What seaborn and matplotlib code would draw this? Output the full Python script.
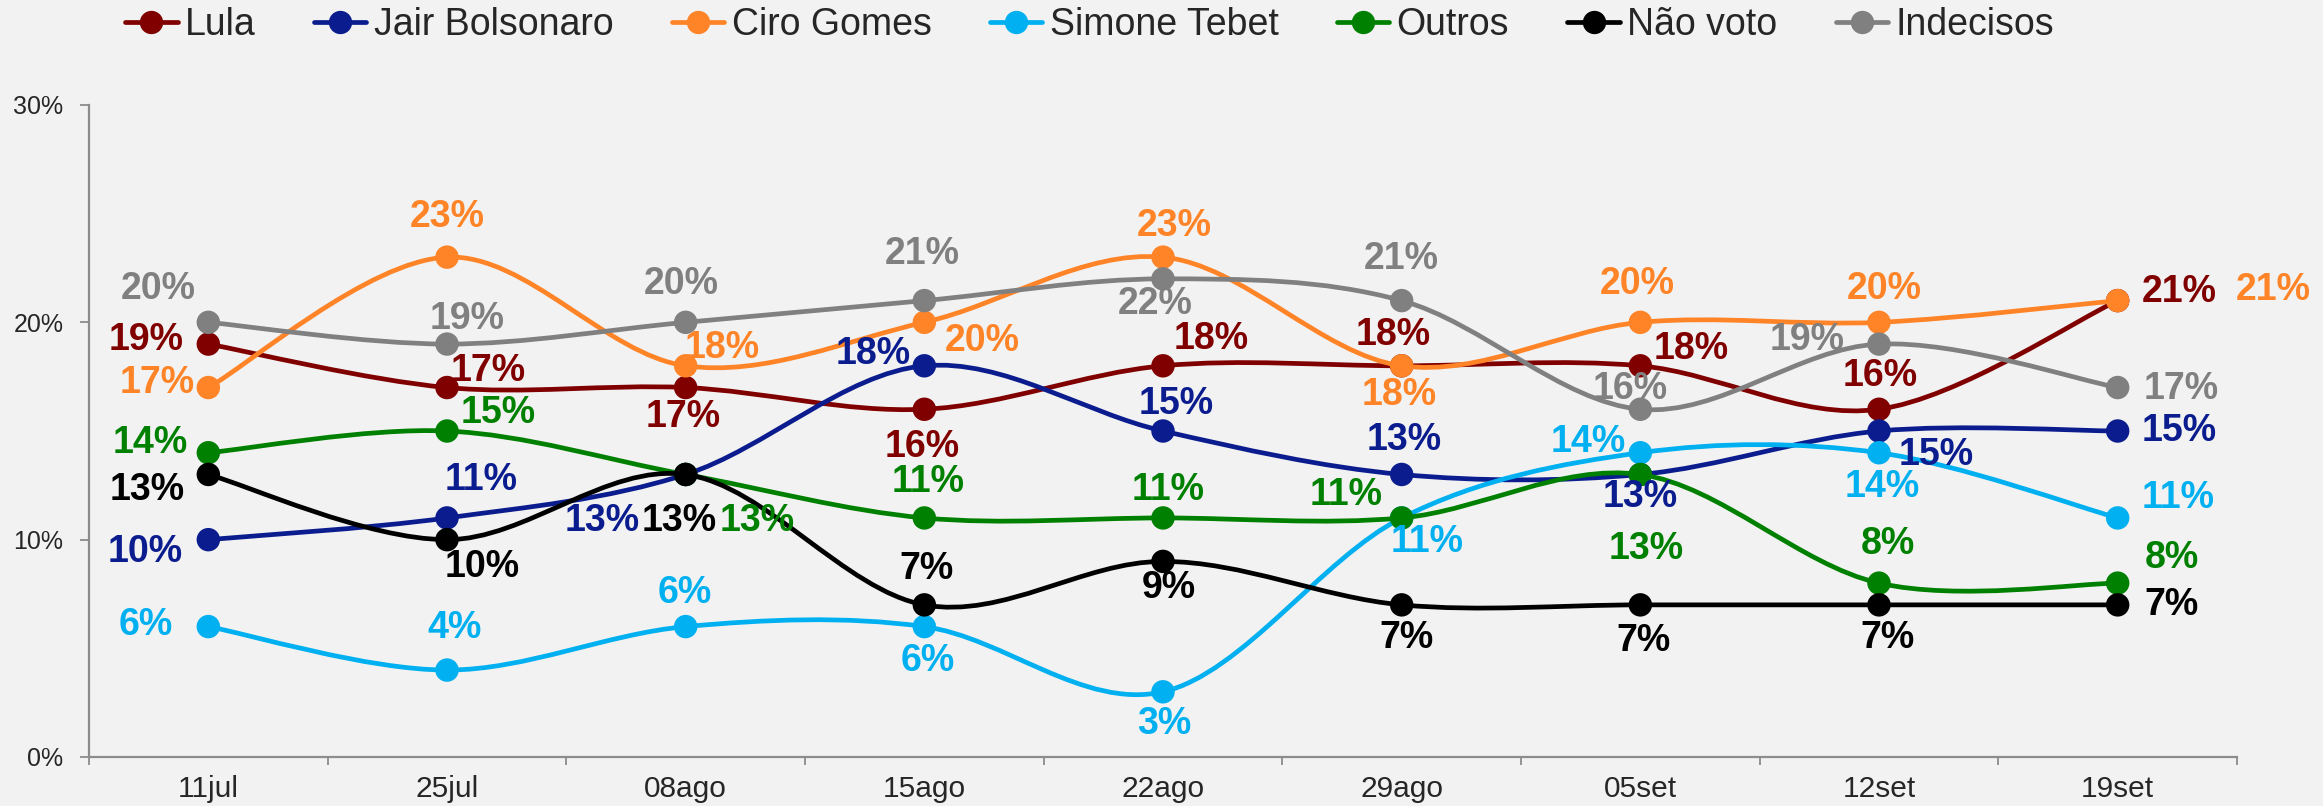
import numpy as np
import pandas as pd
import seaborn as sns
import matplotlib.pyplot as plt
from matplotlib.path import Path
from matplotlib.patches import PathPatch
from matplotlib.lines import Line2D

sns.set_theme(style="white", rc={"figure.facecolor": "#F2F2F2", "axes.facecolor": "#F2F2F2"})
plt.rcParams["font.family"] = ["Liberation Sans", "DejaVu Sans"]

dates = ["11jul", "25jul", "08ago", "15ago", "22ago", "29ago", "05set", "12set", "19set"]
lula = [19, 17, 17, 16, 18, 18, 18, 16, 21]
bolsonaro = [10, 11, 13, 18, 15, 13, 13, 15, 15]
ciro = [17, 23, 18, 20, 23, 18, 20, 20, 21]
tebet = [6, 4, 6, 6, 3, 11, 14, 14, 11]
outros = [14, 15, 13, 11, 11, 11, 13, 8, 8]
nao_voto = [13, 10, 13, 7, 9, 7, 7, 7, 7]
indecisos = [20, 19, 20, 21, 22, 21, 16, 19, 17]

names = ["Lula", "Jair Bolsonaro", "Ciro Gomes", "Simone Tebet", "Outros", "Não voto", "Indecisos"]
series = [lula, bolsonaro, ciro, tebet, outros, nao_voto, indecisos]
colors = ["#800000", "#0B1D8E", "#FF8427", "#00B0F0", "#008000", "#000000", "#808080"]

# data label offsets in pixels (dx right, dy down), one per point
label_offsets = [
    [(-62, -4), (41, -17), (-2, 29), (-2, 38), (48, -27), (-8, -31), (51, -17), (1, -33), (62, -9)],
    [(-63, 12), (34, -38), (-83, 47), (-51, -12), (13, -27), (3, -34), (0, 23), (57, 24), (62, 0)],
    [(-51, -5), (0, -40), (37, -18), (58, 19), (11, -31), (-2, 29), (-3, -38), (5, -33), (156, -11)],
    [(-63, -2), (8, -42), (-1, -34), (3, 34), (1, 32), (25, 24), (-52, -11), (3, 34), (60, -20)],
    [(-58, -10), (51, -18), (72, 47), (4, -36), (5, -28), (-56, -23), (6, 75), (9, -39), (54, -25)],
    [(-61, 16), (35, 27), (-6, 47), (2, -36), (6, 27), (5, 33), (3, 36), (9, 33), (54, 0)],
    [(-50, -33), (20, -25), (-4, -38), (-2, -47), (-8, 25), (0, -42), (-10, -20), (-72, -4), (64, 1)],
]


def smooth_path(xs, ys):
    pts = np.column_stack([xs, ys]).astype(float)
    n = len(pts)
    verts = [tuple(pts[0])]
    codes = [Path.MOVETO]
    for i in range(n - 1):
        p0 = pts[max(i - 1, 0)]
        p1 = pts[i]
        p2 = pts[i + 1]
        p3 = pts[min(i + 2, n - 1)]
        c1 = p1 + (p2 - p0) / 6
        c2 = p2 - (p3 - p1) / 6
        verts += [tuple(c1), tuple(c2), tuple(p2)]
        codes += [Path.CURVE4] * 3
    return Path(verts, codes)


fig = plt.figure(figsize=(23.23, 8.06), dpi=100)
ax = fig.add_axes([89 / 2323, 49 / 806, (2237 - 89) / 2323, (757 - 105) / 806])

x = np.arange(len(dates))
for k, (name, vals, col) in enumerate(zip(names, series, colors)):
    ax.add_patch(PathPatch(smooth_path(x, vals), facecolor="none", edgecolor=col,
                           lw=3.4, capstyle="round", joinstyle="round", zorder=3 + k))
    df = pd.DataFrame({"data": dates, "x": x, "v": vals})
    sns.scatterplot(data=df, x="x", y="v", color=col, s=285, edgecolor="none",
                    linewidth=0, zorder=3 + k, ax=ax, legend=False)

for name, vals, col, offs in zip(names, series, colors, label_offsets):
    for i, v in enumerate(vals):
        dx, dy = offs[i]
        ax.annotate(f"{v}%", (i, v), xytext=(dx, -dy), textcoords="offset pixels",
                    ha="center", va="center", fontsize=27, fontweight="bold",
                    color=col, zorder=20, annotation_clip=False)

ax.set_xlim(-0.5, len(dates) - 0.5)
ax.set_ylim(0, 30)
ax.set_xlabel("")
ax.set_ylabel("")
ax.set_yticks([0, 10, 20, 30], labels=["0%", "10%", "20%", "30%"])
ax.set_xticks(np.arange(-0.5, len(dates), 1))
ax.set_xticklabels([])
ax.set_xticks(x, labels=dates, minor=True)

for side in ["top", "right"]:
    ax.spines[side].set_visible(False)
for side in ["left", "bottom"]:
    ax.spines[side].set_color("#8C8C8C")
    ax.spines[side].set_linewidth(1.6)

ax.tick_params(axis="y", which="major", direction="out", length=6.5, width=1.3,
               color="#8C8C8C", labelsize=18, pad=12, left=True)
ax.tick_params(axis="x", which="major", direction="out", length=6, width=1.3,
               color="#8C8C8C", bottom=True)
ax.tick_params(axis="x", which="minor", length=0, labelsize=21.5, pad=13, bottom=True)

handles = [Line2D([0], [0], color=c, lw=3.4, marker="o", markersize=16.8,
                  markeredgewidth=0) for c in colors]
fig.legend(handles, names, loc="center left", bbox_to_anchor=(125 / 2323, 1 - 25 / 806),
           ncol=7, frameon=False, fontsize=27, handlelength=1.4, handletextpad=0.2,
           columnspacing=1.55, borderaxespad=0, borderpad=0)

fig.savefig("out.png", dpi=100, facecolor=fig.get_facecolor())
